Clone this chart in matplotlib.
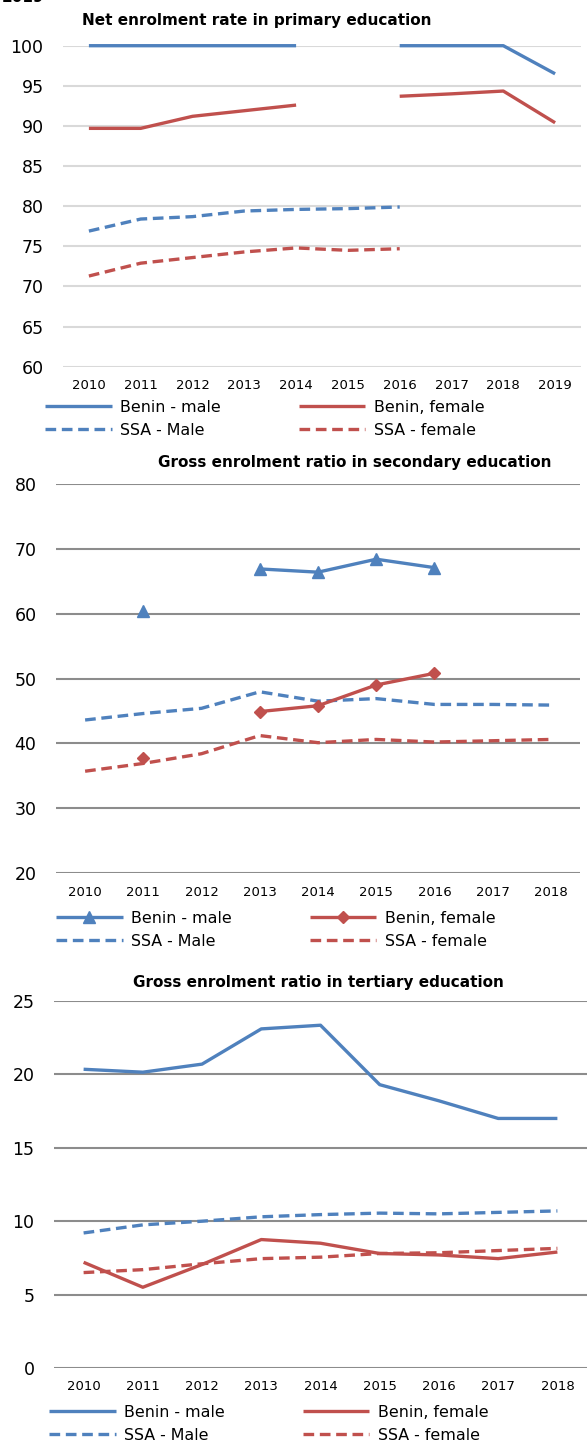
import matplotlib.pyplot as plt
import numpy as np
from matplotlib.lines import Line2D

plt.rcParams['font.family'] = ['DejaVu Sans']

# ---------------- data ----------------
nan = np.nan

years_primary = ['2010', '2011', '2012', '2013', '2014', '2015', '2016', '2017', '2018', '2019']
prim_benin_male = [100, 100, 100, 100, 100, nan, 100, 100, 100, 96.5]
prim_benin_female = [89.7, 89.7, 91.2, 91.9, 92.6, nan, 93.7, 94.0, 94.35, 90.4]
prim_ssa_male = [76.9, 78.4, 78.7, 79.4, 79.6, 79.7, 79.9, nan, nan, nan]
prim_ssa_female = [71.3, 72.9, 73.6, 74.3, 74.8, 74.5, 74.7, nan, nan, nan]

years_sec = ['2010', '2011', '2012', '2013', '2014', '2015', '2016', '2017', '2018']
sec_benin_male = [nan, 60.35, nan, 66.9, 66.4, 68.4, 67.1, nan, nan]
sec_benin_female = [nan, 37.7, nan, 44.9, 45.8, 49.0, 50.8, nan, nan]
sec_ssa_male = [43.6, 44.6, 45.4, 47.95, 46.5, 46.9, 46.0, 46.0, 45.9]
sec_ssa_female = [35.7, 36.9, 38.4, 41.2, 40.1, 40.6, 40.2, 40.4, 40.6]

years_ter = ['2010', '2011', '2012', '2013', '2014', '2015', '2016', '2017', '2018']
ter_benin_male = [20.35, 20.15, 20.7, 23.1, 23.35, 19.3, 18.2, 17.0, 17.0]
ter_benin_female = [7.2, 5.5, 7.05, 8.75, 8.5, 7.8, 7.7, 7.45, 7.9]
ter_ssa_male = [9.2, 9.75, 10.0, 10.3, 10.45, 10.55, 10.5, 10.6, 10.7]
ter_ssa_female = [6.5, 6.7, 7.1, 7.45, 7.55, 7.8, 7.85, 8.0, 8.15]

labels = ['Benin - male', 'Benin, female', 'SSA - Male', 'SSA - female']

BLUE = '#4F81BD'
RED = '#C0504D'

# ---------------- figure ----------------
W, H = 587, 1445
fig = plt.figure(figsize=(W / 100, H / 100), dpi=100)


def px_axes(left, right, top, bottom):
    return fig.add_axes([left / W, 1 - bottom / H, (right - left) / W, (bottom - top) / H])


def style_axes(ax, ylim, yticks, grid_color):
    ax.set_ylim(*ylim)
    ax.set_yticks(yticks)
    for s in ax.spines.values():
        s.set_visible(False)
    ax.tick_params(axis='both', length=0)
    ax.tick_params(axis='y', labelsize=12.5, pad=14)
    ax.tick_params(axis='x', labelsize=9.5, pad=9)
    ax.grid(axis='y', color=grid_color, linewidth=1.5)
    ax.set_axisbelow(True)
    ax.set_xlim(-0.5, len(ax.get_xticks()) - 0.5)


def add_legend(handles, x_px, y_px):
    # matplotlib fills legend columns first, so reorder to get the row layout
    order = [0, 2, 1, 3]
    fig.legend(handles=[handles[i] for i in order], labels=[labels[i] for i in order],
               ncol=2, loc='upper left',
               bbox_to_anchor=(x_px / W, 1 - y_px / H), frameon=False,
               fontsize=11.4, handlelength=4.2, handletextpad=0.55,
               columnspacing=4.9, labelspacing=0.5, borderaxespad=0, borderpad=0)


solid = dict(linewidth=2.4, solid_capstyle='butt', clip_on=False)
dashed = dict(linewidth=2.4, linestyle=(0, (3.2, 1.7)), dash_capstyle='butt', clip_on=False)

# partly cropped heading at the very top
fig.text(2 / W, 1 - 2 / H, '2019', fontsize=11, fontweight='bold', va='baseline')

# ---- Panel 1: primary ----
ax1 = px_axes(63, 581, 45.7, 366.7)
x = np.arange(len(years_primary))
ax1.plot(x, prim_benin_male, color=BLUE, **solid)
ax1.plot(x, prim_benin_female, color=RED, **solid)
ax1.plot(x, prim_ssa_male, color=BLUE, **dashed)
ax1.plot(x, prim_ssa_female, color=RED, **dashed)
ax1.set_xticks(x, years_primary)
style_axes(ax1, (60, 100), range(60, 101, 5), '#D9D9D9')
fig.text(82 / W, 1 - 20 / H, 'Net enrolment rate in primary education',
         ha='left', va='center', fontsize=11, fontweight='bold')
h1 = [Line2D([], [], color=BLUE, **solid), Line2D([], [], color=RED, **solid),
      Line2D([], [], color=BLUE, **dashed), Line2D([], [], color=RED, **dashed)]
add_legend(h1, 45, 400)

# ---- Panel 2: secondary ----
ax2 = px_axes(56, 580, 484, 873)
x = np.arange(len(years_sec))
ax2.plot(x, sec_ssa_male, color=BLUE, **dashed)
ax2.plot(x, sec_ssa_female, color=RED, **dashed)
ax2.plot(x, sec_benin_male, color=BLUE, marker='^', markersize=8, **solid)
ax2.plot(x, sec_benin_female, color=RED, marker='D', markersize=6.5, **solid)
ax2.set_xticks(x, years_sec)
style_axes(ax2, (20, 80), range(20, 81, 10), '#8C8C8C')
fig.text(355 / W, 1 - 463 / H, 'Gross enrolment ratio in secondary education',
         ha='center', va='center', fontsize=11, fontweight='bold')
h2 = [Line2D([], [], color=BLUE, marker='^', markersize=8, **solid),
      Line2D([], [], color=RED, marker='D', markersize=6.5, **solid),
      Line2D([], [], color=BLUE, **dashed), Line2D([], [], color=RED, **dashed)]
add_legend(h2, 56, 911)

# ---- Panel 3: tertiary ----
ax3 = px_axes(54, 587, 1001, 1368)
x = np.arange(len(years_ter))
ax3.plot(x, ter_benin_male, color=BLUE, **solid)
ax3.plot(x, ter_benin_female, color=RED, **solid)
ax3.plot(x, ter_ssa_male, color=BLUE, **dashed)
ax3.plot(x, ter_ssa_female, color=RED, **dashed)
ax3.set_xticks(x, years_ter)
style_axes(ax3, (0, 25), range(0, 26, 5), '#8C8C8C')
fig.text(318 / W, 1 - 983 / H, 'Gross enrolment ratio in tertiary education',
         ha='center', va='center', fontsize=11, fontweight='bold')
add_legend(h1, 49, 1405)

fig.savefig('out.png', dpi=100)
